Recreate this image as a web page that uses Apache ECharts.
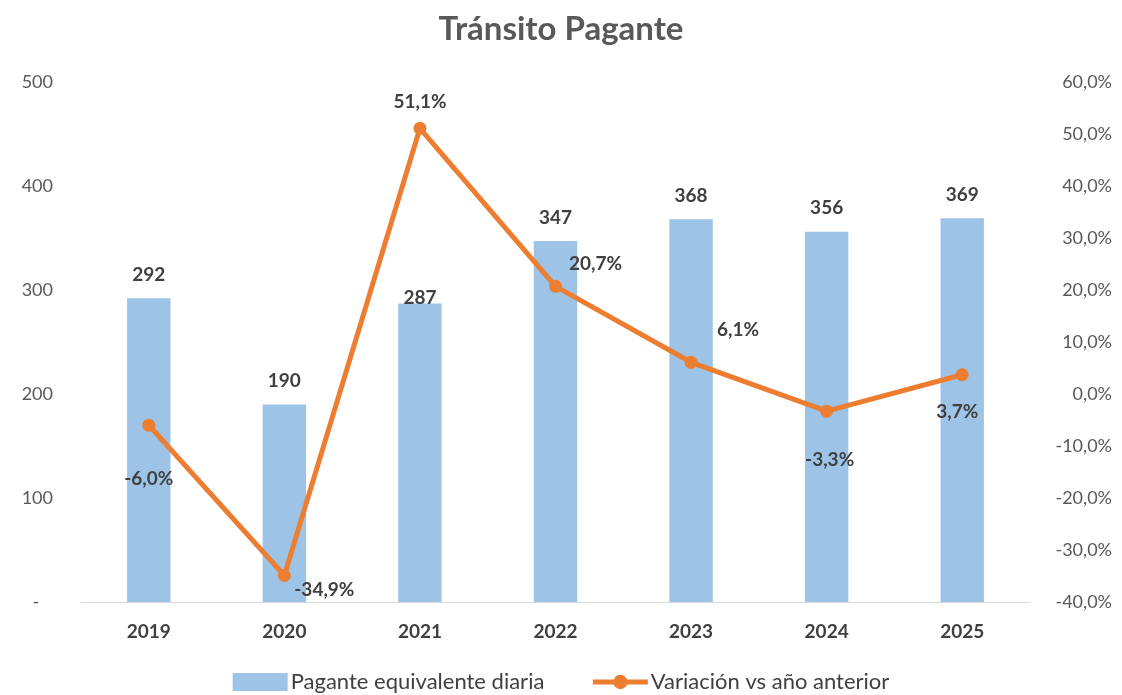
<!DOCTYPE html>
<html>
<head>
<meta charset="utf-8">
<script src="https://cdn.jsdelivr.net/npm/echarts@6/dist/echarts.min.js"></script>
<style>
  html, body { margin: 0; padding: 0; background: #fff; }
  #chart { width: 1122px; height: 695px; }
</style>
</head>
<body>
<div id="chart"></div>
<script>
// Tránsito Pagante: daily paying traffic (bars) and year-over-year change (line)
const years = ['2019', '2020', '2021', '2022', '2023', '2024', '2025'];
const paganteDiaria = [292, 190, 287, 347, 368, 356, 369];
const variacion = [-6.0, -34.9, 51.1, 20.7, 6.1, -3.3, 3.7];

// where each percentage label sits relative to its point (Excel placed them by hand)
const labelOffsets = [[0, 54], [40, 14], [0, -26], [40, -22], [47, -32], [3, 49], [-5, 37]];
// the 2021 bar label was nudged down onto the bar
const barLabelOffsets = [[0, 0], [0, 0], [0, 18], [0, 0], [0, 0], [0, 0], [0, 0]];

const fmtPct = v => v.toFixed(1).replace('.', ',') + '%';
const FONT = 'Lato';

const chart = echarts.init(document.getElementById('chart'));
chart.setOption({
  backgroundColor: '#ffffff',
  textStyle: { fontFamily: FONT },
  animation: false,
  title: {
    text: 'Tránsito Pagante',
    left: 'center',
    top: 8,
    textStyle: { fontFamily: FONT, fontSize: 33, fontWeight: 'bold', color: '#595959' }
  },
  legend: {
    top: 666,
    left: 'center',
    itemGap: 46,
    itemWidth: 55,
    itemHeight: 18,
    lineStyle: { width: 5 },
    textStyle: { fontFamily: FONT, fontSize: 22, color: '#404040', padding: [0, 0, 0, -2] },
    data: [
      { name: 'Pagante equivalente diaria', icon: 'rect' },
      { name: 'Variación vs año anterior' }
    ]
  },
  grid: { left: 81, right: 92, top: 82, bottom: 93 },
  xAxis: {
    type: 'category',
    data: years,
    axisLine: { lineStyle: { color: '#d9d9d9', width: 1 } },
    axisTick: { show: false },
    axisLabel: { fontFamily: FONT, fontSize: 19, fontWeight: 'bold', color: '#404040', margin: 20 }
  },
  yAxis: [
    {
      type: 'value',
      min: 0,
      max: 500,
      interval: 100,
      splitLine: { show: false },
      axisLine: { show: false },
      axisTick: { show: false },
      axisLabel: {
        fontFamily: FONT, fontSize: 18, color: '#595959', margin: 28, align: 'right',
        formatter: v => (v === 0 ? '-   ' : String(v))
      }
    },
    {
      type: 'value',
      min: -40,
      max: 60,
      interval: 10,
      splitLine: { show: false },
      axisLine: { show: false },
      axisTick: { show: false },
      axisLabel: {
        fontFamily: FONT, fontSize: 18, color: '#595959', margin: 82, align: 'right',
        formatter: v => fmtPct(v)
      }
    }
  ],
  series: [
    {
      name: 'Pagante equivalente diaria',
      type: 'bar',
      data: paganteDiaria.map((v, i) => ({
        value: v,
        label: { offset: barLabelOffsets[i] }
      })),
      barWidth: '32%',
      itemStyle: { color: '#9DC3E6' },
      label: {
        show: true,
        position: 'top',
        distance: 14,
        fontFamily: FONT,
        fontSize: 19,
        fontWeight: 'bold',
        color: '#404040'
      }
    },
    {
      name: 'Variación vs año anterior',
      type: 'line',
      yAxisIndex: 1,
      data: variacion.map((v, i) => ({
        value: v,
        label: { offset: labelOffsets[i] }
      })),
      symbol: 'circle',
      symbolSize: 13,
      lineStyle: { color: '#ED7D31', width: 5 },
      itemStyle: { color: '#ED7D31' },
      label: {
        show: true,
        position: 'inside',
        fontFamily: FONT,
        fontSize: 19,
        fontWeight: 'bold',
        color: '#404040',
        formatter: p => fmtPct(p.value)
      }
    }
  ]
});
</script>
</body>
</html>
